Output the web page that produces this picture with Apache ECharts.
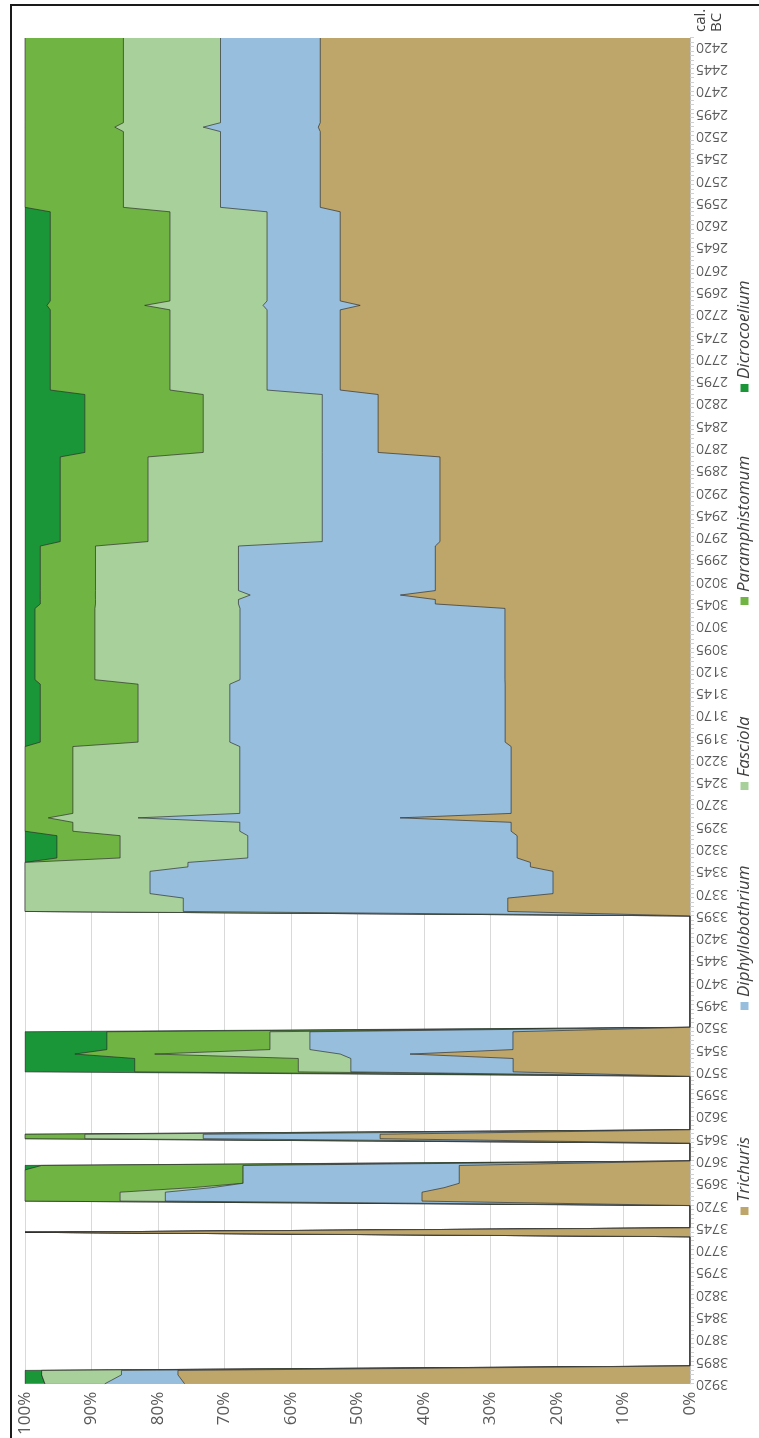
<!DOCTYPE html>
<html><head><meta charset="utf-8">
<script src="https://cdn.jsdelivr.net/npm/echarts@6.0.0/dist/echarts.min.js"></script>
<style>
html,body{margin:0;padding:0;background:#fff;width:759px;height:1438px;overflow:hidden;}
#wrap{position:absolute;left:0;top:0;width:1438px;height:759px;transform-origin:0 0;transform:translateY(1438px) rotate(-90deg);background:#fff;}
#chart{width:1438px;height:759px;}
</style></head>
<body><div id="wrap"><div id="chart"></div></div>
<script>
// years cal. BC (breakpoints of the 5-year series)
const years = [3920,3910,3905,3900,3755,3750,3745,3720,3715,3705,3700,3695,3680,3675,3670,3650,3645,3640,3635,3575,3570,3555,3550,3545,3525,3520,3395,3390,3375,3370,3345,3340,3335,3330,3305,3300,3290,3285,3280,3205,3200,3135,3130,3050,3045,3040,3035,3030,2980,2975,2880,2875,2810,2805,2715,2710,2705,2605,2600,2515,2510,2505,2410];
const trichuris =       [76,77,77,0,0,100,0,0,40.3,40.3,37,34.7,34.7,34.7,0,0,46.6,46.6,0,0,26.6,26.6,42.1,26.6,26.6,0,0,27.4,27.4,20.6,20.6,24,24,26,26,26.9,26.9,43.6,26.9,26.9,27.8,27.8,27.8,27.8,38.3,38.3,43.6,38.3,38.3,37.6,37.6,46.9,46.9,52.6,52.6,49.6,52.6,52.6,55.6,55.6,55.9,55.6,55.6];
const diphyllobothrium =[12,8.5,8.5,0,0,0,0,0,38.6,38.6,35,32.5,32.5,32.5,0,0,26.6,26.6,0,0,24.4,24.4,10.5,30.5,30.5,0,0,48.8,48.8,60.6,60.6,51.5,51.5,40.5,40.5,40.8,40.8,39.4,40.8,40.8,41.4,41.4,39.8,39.8,29.6,29.6,22.6,29.6,29.6,17.7,17.7,8.4,8.4,11,11,14.6,11,11,15,15,17.3,15,15];
const fasciola =        [9,12,12,0,0,0,0,0,6.8,6.8,3,0,0,0,0,0,17.8,17.8,0,0,7.9,7.9,27.9,6,6,0,0,23.8,23.8,18.8,18.8,24.5,24.5,19.2,19.2,25.1,25.1,13.5,25.1,25.1,13.8,13.8,21.8,21.8,21.5,21.5,23.3,21.5,21.5,26.2,26.2,17.9,17.9,14.6,14.6,17.8,14.6,14.6,14.6,14.6,13.3,14.6,14.6];
const paramphistomum =  [0,0,0,0,0,0,0,0,14.3,14.3,25,32.8,32.8,30.3,0,0,9,9,0,0,24.6,24.6,12,24.5,24.5,0,0,0,0,0,0,0,0,9.5,9.5,7.2,7.2,3.5,7.2,7.2,14.7,14.7,9,9,8.3,8.3,8.3,8.3,8.3,13.2,13.2,17.8,17.8,18,18,14.7,18,18,14.8,14.8,13.5,14.8,14.8];
const dicrocoelium =    [3,2.5,2.5,0,0,0,0,0,0,0,0,0,0,2.5,0,0,0,0,0,0,16.5,16.5,7.5,12.3,12.3,0,0,0,0,0,0,0,0,4.8,4.8,0,0,0,0,0,2.3,2.3,1.5,1.5,2.3,2.3,2.3,2.3,2.3,5.3,5.3,9,9,3.8,3.8,3.3,3.8,3.8,0,0,0,0,0];
const seriesNames = ['Trichuris','Diphyllobothrium','Fasciola','Paramphistomum','Dicrocoelium'];
const seriesColors = ['#BEA56A','#97BFDD','#A8D09A','#70B444','#1A9638'];
const percentTicks = [0,10,20,30,40,50,60,70,80,90,100];
const legendX = [218,423,643,828,1041];

const raw = [trichuris, diphyllobothrium, fasciola, paramphistomum, dicrocoelium];
// 100% stacking: cumulative share of the taxa at every year
const totals = years.map((_, i) => raw.reduce((s, a) => s + a[i], 0));
const cumul = raw.map((a, k) => years.map((_, i) => {
  if (!(totals[i] > 0)) return 0;
  let s = 0; for (let j = 0; j <= k; j++) s += raw[j][i];
  return s / totals[i] * 100;
}));

const chart = echarts.init(document.getElementById('chart'), null, {renderer: 'canvas'});
// draw the largest cumulative first so each band shows above the one below it
const series = seriesNames.map((n, k) => ({
  name: n, type: 'line', symbol: 'none', animation: false, z: 10 - k,
  data: years.map((y, i) => [y, cumul[k][i]]),
  lineStyle: {color: 'rgba(45,45,45,0.85)', width: 0.8},
  itemStyle: {color: seriesColors[k]},
  areaStyle: {color: seriesColors[k], opacity: 1}
})).reverse();
const legends = seriesNames.map((n, k) => ({
  data: [n], left: legendX[k], top: 731, itemWidth: 8, itemHeight: 8, icon: 'rect',
  textStyle: {fontFamily: 'Open Sans', fontStyle: 'italic', fontSize: 17, color: '#404040'},
  selectedMode: false
}));
chart.setOption({
  animation: false,
  backgroundColor: '#fff',
  grid: {left: 54, right: 38, top: 25, bottom: 69},
  legend: legends,
  xAxis: {
    type: 'value', min: 2410, max: 3920, interval: 5, inverse: true,
    axisLine: {show: true, lineStyle: {color: '#bfbfbf', width: 1}},
    axisTick: {show: true, length: 4, lineStyle: {color: '#d0d0d0'}},
    splitLine: {show: false},
    axisLabel: {rotate: 90, margin: 6, fontSize: 14, fontFamily: 'Open Sans', color: '#595959',
      formatter: v => ((3920 - v) % 25 === 0 ? String(v) : '')}
  },
  yAxis: {
    type: 'value', min: percentTicks[0], max: percentTicks[percentTicks.length-1], interval: 10,
    axisLine: {show: false}, axisTick: {show: false},
    splitLine: {show: true, lineStyle: {color: '#d9d9d9', width: 1}},
    axisLabel: {formatter: '{value}%', fontSize: 17, fontFamily: 'Open Sans', color: '#595959', margin: 8}
  },
  graphic: [
    {type: 'rect', shape: {x: -5, y: 11, width: 1438, height: 800}, style: {fill: 'none', stroke: '#1a1a1a', lineWidth: 2}, silent: true},
    {type: 'text', left: 1406, top: 693, style: {text: 'cal.\nBC', fontSize: 15, lineHeight: 16, fontFamily: 'Open Sans', fill: '#404040'}}
  ],
  series: series
});
</script></body></html>
